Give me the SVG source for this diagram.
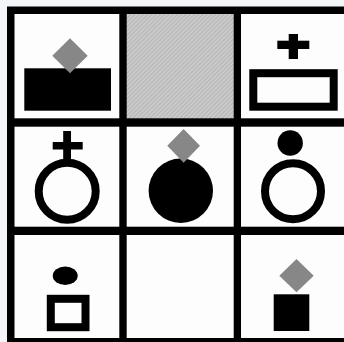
<svg xmlns="http://www.w3.org/2000/svg" width="344" height="342" viewBox="0 0 344 342">
  <defs>
    <pattern id="hatch" width="3" height="3" patternUnits="userSpaceOnUse" patternTransform="rotate(45)">
      <rect width="3" height="3" fill="#cdcdcd"/>
      <rect width="1.2" height="3" fill="#b4b4b4"/>
    </pattern>
    <style>
      .cell { fill: #fdfdfd; }
      .ink { fill: #000; }
      .ring { fill: none; stroke: #000; stroke-width: 8; }
      .gem { fill: #878787; }
    </style>
  </defs>
  <rect width="344" height="342" fill="#f3f5f8"/>
  <g id="grid">
    <rect x="7" y="6.5" width="337" height="336" fill="#000"/>
    <rect class="cell" x="14.5" y="14" width="104.8" height="104.3"/>
    <rect x="126.7" y="14" width="107" height="104.3" fill="url(#hatch)"/>
    <rect class="cell" x="241" y="14" width="103" height="104.3"/>
    <rect class="cell" x="14.5" y="126.7" width="104.8" height="100"/>
    <rect class="cell" x="126.7" y="126.7" width="107" height="100"/>
    <rect class="cell" x="241" y="126.7" width="103" height="100"/>
    <rect class="cell" x="14.5" y="235" width="104.8" height="103"/>
    <rect class="cell" x="126.7" y="235" width="107" height="103"/>
    <rect class="cell" x="241" y="235" width="103" height="103"/>
  </g>
  <g id="connectors"/>
  <g id="cell-1-1">
    <rect class="ink" x="24.3" y="68.3" width="86.7" height="42.4"/>
    <polygon class="gem" points="70,38.3 87.7,55.8 70,73.3 52.3,55.8"/>
  </g>
  <g id="cell-1-3">
    <rect class="ink" x="277.3" y="40.7" width="32" height="8.3"/>
    <rect class="ink" x="288.7" y="34" width="9.3" height="25"/>
    <rect class="ring" x="253.3" y="73.2" width="80.4" height="33.5"/>
  </g>
  <g id="cell-2-1">
    <rect class="ink" x="52.7" y="142" width="30" height="7.5"/>
    <rect class="ink" x="63.2" y="131" width="7.8" height="30"/>
    <circle class="ring" cx="67.2" cy="191.2" r="28.5"/>
  </g>
  <g id="cell-2-2">
    <circle class="ink" cx="180.8" cy="190.7" r="32.2"/>
    <polygon class="gem" points="183.6,129 200,145.8 183.6,162.7 167.3,145.8"/>
  </g>
  <g id="cell-2-3">
    <circle class="ink" cx="290.2" cy="143" r="12.7"/>
    <circle class="ring" cx="293" cy="191.2" r="28"/>
  </g>
  <g id="cell-3-1">
    <ellipse class="ink" cx="65.2" cy="275.8" rx="12.5" ry="9.2"/>
    <rect class="ring" x="50.8" y="298.8" width="34.7" height="28.4"/>
  </g>
  <g id="cell-3-3">
    <rect class="ink" x="273.7" y="294.3" width="35.6" height="36.7"/>
    <polygon class="gem" points="296.5,259 313.7,275.7 296.5,292.3 279.3,275.7"/>
  </g>
</svg>
